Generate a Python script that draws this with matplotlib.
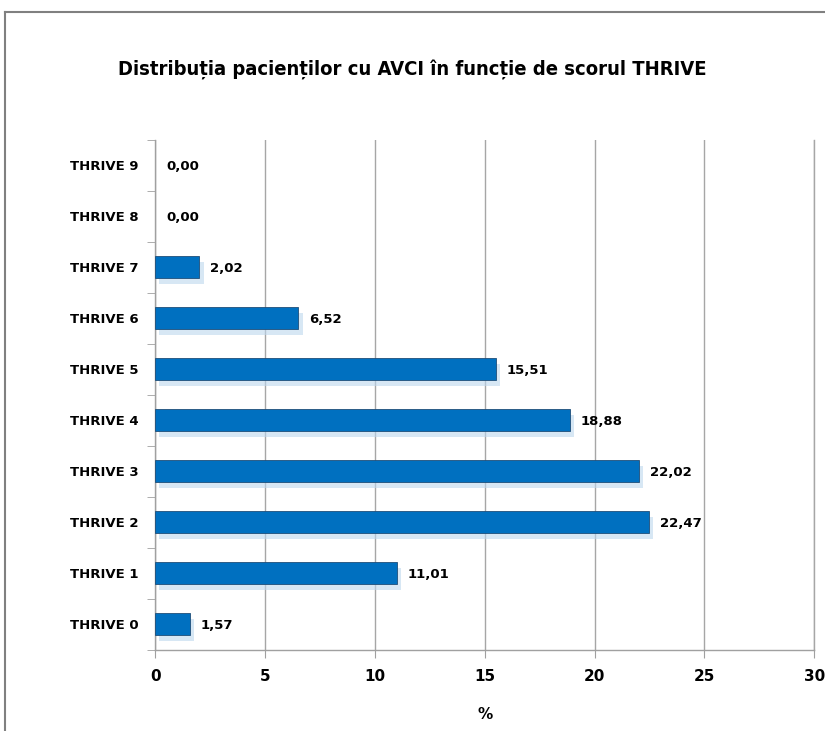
import matplotlib
matplotlib.use("Agg")
import matplotlib.pyplot as plt
import matplotlib.patheffects as pe
from matplotlib.lines import Line2D

categories = ["THRIVE 0", "THRIVE 1", "THRIVE 2", "THRIVE 3", "THRIVE 4",
              "THRIVE 5", "THRIVE 6", "THRIVE 7", "THRIVE 8", "THRIVE 9"]
values = [1.57, 11.01, 22.47, 22.02, 18.88, 15.51, 6.52, 2.02, 0.00, 0.00]
xticks = [0, 5, 10, 15, 20, 25, 30]

title = "Distribuția pacienților cu AVCI în funcție de scorul THRIVE"

fig = plt.figure(figsize=(8.25, 7.31), dpi=100)
ax = fig.add_axes([0.188, 0.111, 0.799, 0.6975])

ypos = list(range(len(categories)))
bars = ax.barh(ypos, values, height=0.43, color="#0070C0",
               edgecolor="#1F4E79", linewidth=0.6, zorder=3)
for b, v in zip(bars, values):
    if v == 0:
        b.set_visible(False)
        continue
    b.set_path_effects([pe.SimplePatchShadow(offset=(3, -4), shadow_rgbFace="#BDD7EE", alpha=0.6),
                        pe.Normal()])

for y, v in zip(ypos, values):
    ax.text(v + 0.5, y - 0.02, f"{v:.2f}".replace(".", ","), va="center", ha="left",
            fontsize=9.5, fontweight="bold", color="black")

ax.set_xlim(0, 30)
ax.set_ylim(-0.5, len(categories) - 0.5)
ax.set_xticks(xticks)
ax.set_xticklabels([str(t) for t in xticks], fontsize=11, fontweight="bold")
ax.set_yticks(ypos)
ax.set_yticklabels(categories, fontsize=9.5, fontweight="bold")
ax.set_yticks([y - 0.5 for y in range(len(categories) + 1)], minor=True)
ax.tick_params(axis="y", which="major", length=0, pad=12)
ax.tick_params(axis="y", which="minor", length=6, color="#A0A0A0", direction="out")
ax.tick_params(axis="x", length=6, color="#A0A0A0", direction="out", pad=8)

ax.grid(axis="x", color="#A6A6A6", linewidth=1, zorder=0)
ax.axvline(30, color="#A6A6A6", linewidth=1, zorder=0, clip_on=False)
for s in ["top", "right"]:
    ax.spines[s].set_visible(False)
for s in ["left", "bottom"]:
    ax.spines[s].set_color("#A0A0A0")
    ax.spines[s].set_linewidth(1)

ax.set_xlabel("%", fontsize=11, fontweight="bold", labelpad=16)

fig.text(0.5, 0.905, title, ha="center", va="center", fontsize=14.5,
         fontweight="bold", fontstretch="condensed")

# outer chart frame (left and top edges visible)
fig.add_artist(Line2D([0.006, 0.006], [0, 0.9836], transform=fig.transFigure,
                      color="#808080", linewidth=1.5))
fig.add_artist(Line2D([0.006, 1.0], [0.9836, 0.9836], transform=fig.transFigure,
                      color="#808080", linewidth=1.5))

fig.savefig("out.png", dpi=100)
